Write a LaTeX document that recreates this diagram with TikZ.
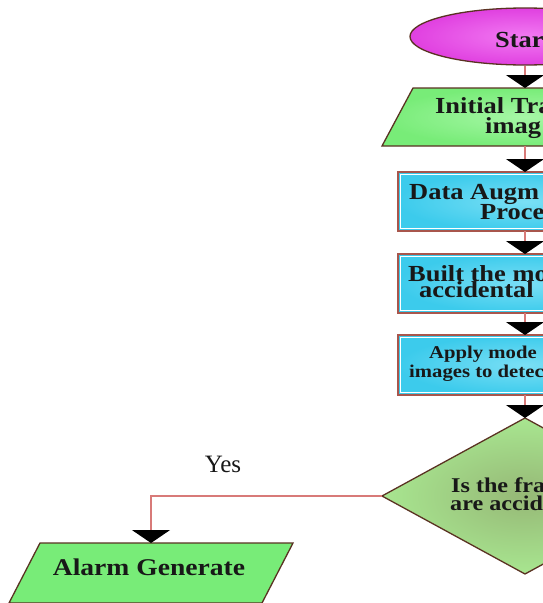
\documentclass[tikz,border=0pt]{standalone}
\usepackage{fontspec}
\setmainfont{Liberation Serif}
\newfontfamily\bx{Liberation Serif}[FakeStretch=1.15]
\usetikzlibrary{arrows.meta,shapes.geometric,calc}
\definecolor{pinkin}{HTML}{F27AF2}
\definecolor{pinkout}{HTML}{E040E0}
\definecolor{grin}{HTML}{A6F7A6}
\definecolor{grout}{HTML}{78EC78}
\definecolor{cyin}{HTML}{7ADFF5}
\definecolor{cyout}{HTML}{3CCBEC}
\definecolor{olin}{HTML}{96B876}
\definecolor{olout}{HTML}{A8E690}
\definecolor{edgec}{HTML}{5A3222}
\definecolor{boxedge}{HTML}{A8564C}
\definecolor{linec}{HTML}{D87A78}
\definecolor{txtc}{HTML}{181818}
\tikzset{
  flow/.style={draw=linec, line width=1.1pt, -{Triangle[width=38pt,length=13pt,color=black]}},
  holder/.style={draw=none, inner sep=0pt, outer sep=0pt},
  boxfill/.style={draw=boxedge, line width=1.6pt, shading=radial, inner color=cyin, outer color=cyout},
  parafill/.style={draw=edgec, line width=1.3pt, shading=radial, inner color=grin, outer color=grout},
  bigtxt/.style={inner sep=0pt, text=txtc, font=\bx\bfseries\fontsize{23}{23}\selectfont},
  midtxt/.style={inner sep=0pt, text=txtc, font=\bx\bfseries\fontsize{21}{21}\selectfont},
  smalltxt/.style={inner sep=0pt, text=txtc, font=\bx\bfseries\fontsize{18}{18}\selectfont},
}
\begin{document}
\begin{tikzpicture}[x=1pt,y=-1pt]
\useasboundingbox (0,0) rectangle (543,603);
\clip (0,0) rectangle (543,603);
\fill[white] (0,0) rectangle (543,603);

% Start
\node[ellipse, draw=edgec, line width=1.3pt, shading=radial, inner color=pinkin, outer color=pinkout,
      minimum width=230pt, minimum height=57pt, inner sep=0pt] (start) at (525,36.5) {};
\node[bigtxt, anchor=base west] (tstart) at (495,47) {Star};

% Initial training images (parallelogram)
\node[holder, minimum width=255pt, minimum height=58pt] (init) at (525,117) {};
\path[parafill] ([xshift=15.5pt]init.north west) -- ([xshift=15.5pt]init.north east)
   -- ([xshift=-15.5pt]init.south east) -- ([xshift=-15.5pt]init.south west) -- cycle;
\node[bigtxt, anchor=base west] (tinit1) at (435,113) {Initial Tra};
\node[bigtxt, anchor=base west] (tinit2) at (485,133) {imag};

% Data augmentation
\node[holder, minimum width=254pt, minimum height=59pt] (data) at (525,201.5) {};
\path[boxfill] (data.north west) rectangle (data.south east);
\draw[white, line width=1pt] ($(data.north west)+(2.5,2.5)$) rectangle ($(data.south east)+(-2.5,-2.5)$);
\node[bigtxt, anchor=base west] (tdata1) at (409,199) {Data Augm};
\node[bigtxt, anchor=base west] (tdata2) at (480,219) {Proce};

% Built the model
\node[holder, minimum width=254pt, minimum height=59pt] (built) at (525,283.5) {};
\path[boxfill] (built.north west) rectangle (built.south east);
\draw[white, line width=1pt] ($(built.north west)+(2.5,2.5)$) rectangle ($(built.south east)+(-2.5,-2.5)$);
\node[bigtxt, anchor=base west] (tbuilt1) at (408,281) {Built the mo};
\node[bigtxt, anchor=base west] (tbuilt2) at (419,297) {accidental};

% Apply model
\node[holder, minimum width=254pt, minimum height=60pt] (apply) at (525,365) {};
\path[boxfill] (apply.north west) rectangle (apply.south east);
\draw[white, line width=1pt] ($(apply.north west)+(2.5,2.5)$) rectangle ($(apply.south east)+(-2.5,-2.5)$);
\node[smalltxt, anchor=base west] (tapply1) at (429,358) {Apply mode};
\node[smalltxt, anchor=base west] (tapply2) at (409,377) {images to detec};

% Decision
\node[holder, minimum width=286pt, minimum height=156pt] (dec) at (525,496) {};
\path[draw=edgec, line width=1.3pt, shading=radial, inner color=olin, outer color=olout]
   (dec.north) -- (dec.east) -- (dec.south) -- (dec.west) -- cycle;
\node[midtxt, anchor=base west] (tdec1) at (451,492) {Is the fra};
\node[midtxt, anchor=base west] (tdec2) at (450,510) {are accid};

% Alarm
\node[holder, minimum width=253pt, minimum height=60pt] (alarm) at (151,573) {};
\path[draw=edgec, line width=1.3pt, fill=grout] ([xshift=15.5pt]alarm.north west) -- ([xshift=15.5pt]alarm.north east)
   -- ([xshift=-15.5pt]alarm.south east) -- ([xshift=-15.5pt]alarm.south west) -- cycle;
\node[inner sep=0pt, text=txtc, font=\bx\bfseries\fontsize{24}{24}\selectfont, anchor=base] (talarm) at (149,575) {Alarm Generate};

% Connectors
\draw[flow] (start.south) -- (init.north);
\draw[flow] (init.south) -- (data.north);
\draw[flow] (data.south) -- (built.north);
\draw[flow] (built.south) -- (apply.north);
\draw[flow] (apply.south) -- (dec.north);
\draw[flow] (dec.west) -| (alarm.north);
\node[inner sep=0pt, text=txtc, font=\fontsize{25}{25}\selectfont, anchor=base] (yes) at (223,472) {Yes};
\end{tikzpicture}
\end{document}
